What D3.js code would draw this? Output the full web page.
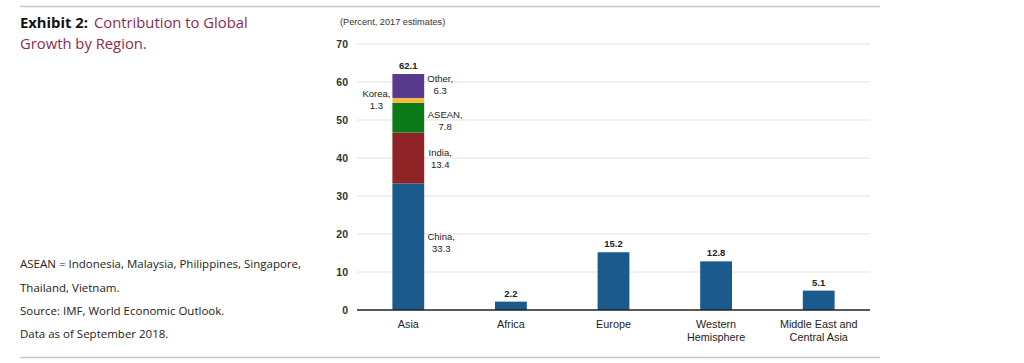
<!DOCTYPE html>
<html>
<head>
<meta charset="utf-8">
<script src="https://cdn.jsdelivr.net/npm/d3@7"></script>
<style>
  body { margin: 0; background: #fff; }
  svg { display: block; }
</style>
</head>
<body>
<div id="chart"></div>
<script>
// regions along the x axis
const regions = ['Asia', 'Africa', 'Europe', 'Western Hemisphere', 'Middle East and Central Asia'];
const regionLines = [['Asia'], ['Africa'], ['Europe'], ['Western', 'Hemisphere'], ['Middle East and', 'Central Asia']];
const regionTotals = [62.1, 2.2, 15.2, 12.8, 5.1];

// stack of the Asia bar, bottom to top
const asiaParts = ['China', 'India', 'ASEAN', 'Korea', 'Other'];
const asiaValues = [33.3, 13.4, 7.8, 1.3, 6.3];
const partColors = ['#1b5a8c', '#8e2426', '#0b7a17', '#f4b942', '#583a8c'];

const yTicks = [0, 10, 20, 30, 40, 50, 60, 70];

const notes = [
  'ASEAN = Indonesia, Malaysia, Philippines, Singapore,',
  'Thailand, Vietnam.',
  'Source: IMF, World Economic Outlook.',
  'Data as of September 2018.'
];

const width = 1024, height = 363;
const plot = { left: 357, right: 870, top: 44, bottom: 310 };

const svg = d3.select('#chart').append('svg')
  .attr('width', width)
  .attr('height', height);

// rules top and bottom
svg.append('line').attr('x1', 20).attr('x2', 880).attr('y1', 6.5).attr('y2', 6.5)
  .attr('stroke', '#c8c8c8').attr('stroke-width', 1.5);
svg.append('line').attr('x1', 20).attr('x2', 880).attr('y1', 357.5).attr('y2', 357.5)
  .attr('stroke', '#c8c8c8').attr('stroke-width', 1.5);

// title
const title = svg.append('text')
  .attr('x', 20).attr('y', 28)
  .attr('font-family', 'Open Sans, sans-serif')
  .attr('font-size', 14.8);
title.append('tspan').attr('font-weight', 'bold').attr('fill', '#111').text('Exhibit 2:');
title.append('tspan').attr('fill', '#8a2d52').attr('dx', 6).text('Contribution to Global');
svg.append('text')
  .attr('x', 20).attr('y', 49)
  .attr('font-family', 'Open Sans, sans-serif')
  .attr('font-size', 14.8)
  .attr('fill', '#8a2d52')
  .text('Growth by Region.');

// footnotes
svg.selectAll('.note')
  .data(notes)
  .enter()
  .append('text')
  .attr('class', 'note')
  .attr('x', 20)
  .attr('y', (d, i) => [268, 292, 315, 338][i])
  .attr('font-family', 'Open Sans, sans-serif')
  .attr('font-size', 11.5)
  .attr('fill', '#222')
  .text(d => d);

// scales
const x = d3.scaleBand()
  .domain(regions)
  .range([plot.left, plot.right])
  .paddingInner(0.69)
  .paddingOuter(0.345);

const y = d3.scaleLinear()
  .domain([0, 70])
  .range([plot.bottom, plot.top]);

// grid
svg.selectAll('.y-grid')
  .data(yTicks.filter(t => t > 0))
  .enter()
  .append('line')
  .attr('class', 'y-grid')
  .attr('x1', plot.left)
  .attr('x2', plot.right)
  .attr('y1', d => y(d))
  .attr('y2', d => y(d))
  .attr('stroke', '#e2e2e2')
  .attr('stroke-width', 1);

// y axis labels
const yAxis = svg.append('g')
  .attr('transform', `translate(${plot.left}, 0)`)
  .call(d3.axisLeft(y).tickValues(yTicks).tickSize(0).tickPadding(9));
yAxis.select('.domain').remove();
yAxis.selectAll('text')
  .attr('font-family', 'Liberation Sans, Arial, sans-serif')
  .attr('font-size', 10.5)
  .attr('font-weight', 'bold')
  .attr('fill', '#333');

svg.append('text')
  .attr('x', 340).attr('y', 25)
  .attr('font-family', 'Liberation Sans, Arial, sans-serif')
  .attr('font-size', 9.2)
  .attr('fill', '#333')
  .text('(Percent, 2017 estimates)');

// Asia stacked segments
let acc = 0;
const stack = asiaValues.map((v, i) => {
  const seg = { name: asiaParts[i], value: v, y0: acc, y1: acc + v, color: partColors[i] };
  acc += v;
  return seg;
});

svg.selectAll('.seg')
  .data(stack)
  .enter()
  .append('rect')
  .attr('class', 'seg')
  .attr('x', x('Asia'))
  .attr('width', x.bandwidth())
  .attr('y', d => y(d.y1))
  .attr('height', d => y(d.y0) - y(d.y1))
  .attr('fill', d => d.color);

// other regions, single bars
const singles = regions.slice(1).map((r, i) => ({ region: r, value: regionTotals[i + 1] }));
svg.selectAll('.bar')
  .data(singles)
  .enter()
  .append('rect')
  .attr('class', 'bar')
  .attr('x', d => x(d.region))
  .attr('width', x.bandwidth())
  .attr('y', d => y(d.value))
  .attr('height', d => y(0) - y(d.value))
  .attr('fill', partColors[0]);

// x axis line
svg.append('line')
  .attr('x1', plot.left).attr('x2', plot.right)
  .attr('y1', y(0)).attr('y2', y(0))
  .attr('stroke', '#222').attr('stroke-width', 1.5);

// totals above bars
svg.selectAll('.total')
  .data(regions)
  .enter()
  .append('text')
  .attr('class', 'total')
  .attr('x', d => x(d) + x.bandwidth() / 2)
  .attr('y', (d, i) => y(regionTotals[i]) - 5)
  .attr('text-anchor', 'middle')
  .attr('font-family', 'Liberation Sans, Arial, sans-serif')
  .attr('font-size', 9.5)
  .attr('font-weight', 'bold')
  .attr('fill', '#222')
  .text((d, i) => regionTotals[i].toFixed(1));

// segment labels: y in data units, x offset from the bar edge; Korea sits on the left
const segLabelPos = {
  China: { at: 18.4, dx: 17 },
  India: { at: 40.5, dx: 16 },
  ASEAN: { at: 50.5, dx: 21 },
  Korea: { at: 56, dx: -16 },
  Other: { at: 60, dx: 16 }
};
svg.selectAll('.seg-label')
  .data(stack)
  .enter()
  .append('text')
  .attr('class', 'seg-label')
  .attr('text-anchor', 'middle')
  .attr('font-family', 'Liberation Sans, Arial, sans-serif')
  .attr('font-size', 9.5)
  .attr('fill', '#222')
  .each(function (d) {
    const p = segLabelPos[d.name];
    const cx = p.dx < 0 ? x('Asia') + p.dx : x('Asia') + x.bandwidth() + p.dx;
    const yy = y(p.at);
    const t = d3.select(this);
    t.append('tspan').attr('x', cx).attr('y', yy).text(d.name + ',');
    t.append('tspan').attr('x', cx).attr('y', yy + 11.5).text(d.value.toFixed(1));
  });

// category labels
svg.selectAll('.cat')
  .data(regions)
  .enter()
  .append('text')
  .attr('class', 'cat')
  .attr('text-anchor', 'middle')
  .attr('font-family', 'Liberation Sans, Arial, sans-serif')
  .attr('font-size', 10.8)
  .attr('fill', '#222')
  .each(function (d, i) {
    const t = d3.select(this);
    regionLines[i].forEach((line, j) => {
      t.append('tspan')
        .attr('x', x(d) + x.bandwidth() / 2)
        .attr('y', 328 + j * 12.5)
        .text(line);
    });
  });
</script>
</body>
</html>
